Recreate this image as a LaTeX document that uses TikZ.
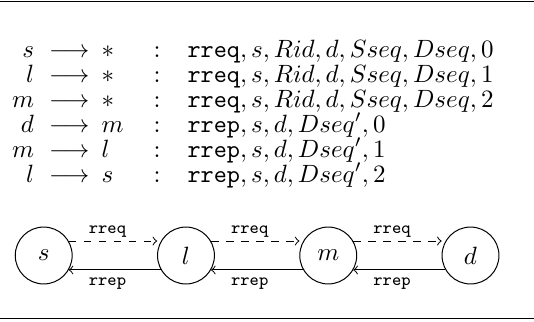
\documentclass[tikz,border=0pt]{standalone}
\begin{document}
\begin{tikzpicture}[x=0.4pt,y=-0.4pt,
  cell/.style={inner sep=0pt, outer sep=0pt},
  peer/.style={circle, draw, minimum size=0.8cm, inner sep=0pt, line width=0.4pt},
  req/.style={->, dashed, shorten >=1.5pt},
  rep/.style={->},
  lab/.style={font=\scriptsize\ttfamily, inner sep=0pt, anchor=base},
  framerule/.style={line width=0.6pt}]
\useasboundingbox (0,0) rectangle (534,321);
\draw[framerule] (0,1.7) -- (534,1.7);
\draw[framerule] (0,318.3) -- (534,318.3);
% table of messages
\foreach \a/\b/\c [count=\i] in {
  s/\ast/{\texttt{rreq}, s, Rid, d, Sseq, Dseq, 0},
  l/\ast/{\texttt{rreq}, s, Rid, d, Sseq, Dseq, 1},
  m/\ast/{\texttt{rreq}, s, Rid, d, Sseq, Dseq, 2},
  d/m/{\texttt{rrep}, s, d, Dseq', 0},
  m/l/{\texttt{rrep}, s, d, Dseq', 1},
  l/s/{\texttt{rrep}, s, d, Dseq', 2}}{
  \node[cell, anchor=base east] (from\i) at (34,{57+(\i-1)*25}) {$\a$};
  \node[cell, anchor=base west] (arr\i) at (49,{57+(\i-1)*25}) {$\longrightarrow$};
  \node[cell, anchor=base west] (to\i) at (101.5,{57+(\i-1)*25}) {$\b$};
  \node[cell, anchor=base] (col\i) at (157,{57+(\i-1)*25}) {$:$};
  \node[cell, anchor=base west] (msg\i) at (187.5,{57+(\i-1)*25}) {$\c$};
}
% peers
\node[peer] (s) at (43.7,255.5) {$s$};
\node[peer] (l) at (185.97,255.5) {$l$};
\node[peer] (m) at (328.24,255.5) {$m$};
\node[peer] (d) at (470.5,255.5) {$d$};
% requests
\draw[req] (s.30) -- (l.150) node[lab, pos=0.42, yshift=3.2pt] (q1) {rreq};
\draw[req] (l.30) -- (m.150) node[lab, pos=0.42, yshift=3.2pt] (q2) {rreq};
\draw[req] (m.30) -- (d.150) node[lab, pos=0.42, yshift=3.2pt] (q3) {rreq};
% replies
\draw[rep] (l.210) -- (s.330) node[lab, pos=0.58, yshift=-6.2pt] (p1) {rrep};
\draw[rep] (m.210) -- (l.330) node[lab, pos=0.58, yshift=-6.2pt] (p2) {rrep};
\draw[rep] (d.210) -- (m.330) node[lab, pos=0.58, yshift=-6.2pt] (p3) {rrep};
\end{tikzpicture}
\end{document}
